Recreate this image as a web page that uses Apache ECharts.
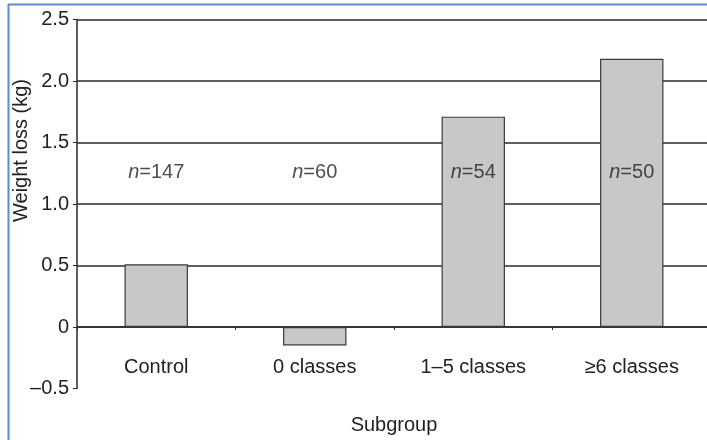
<!DOCTYPE html>
<html>
<head>
<meta charset="utf-8">
<script src="https://cdn.jsdelivr.net/npm/echarts@6/dist/echarts.min.js"></script>
<style>
html,body{margin:0;padding:0;background:#fff;}
#c{width:707px;height:440px;}
</style>
</head>
<body>
<div id="c"></div>
<script>
const categories = ['Control', '0 classes', '1\u20135 classes', '\u22656 classes'];
const weightLoss = [0.51, -0.15, 1.71, 2.18];
const sampleSizes = [147, 60, 54, 50];
const nLabelLevel = 1.26;
const yTicks = [-0.5, 0, 0.5, 1.0, 1.5, 2.0, 2.5];

const FONT = '"Liberation Sans", Arial, sans-serif';
const chart = echarts.init(document.getElementById('c'), null, {renderer: 'canvas'});
chart.setOption({
  backgroundColor: '#fff',
  animation: false,
  grid: {left: 77, right: -4, top: 19.5, bottom: 51.5, containLabel: false, outerBoundsMode: 'none'},
  xAxis: {
    type: 'category',
    data: categories,
    name: 'Subgroup',
    nameLocation: 'middle',
    nameGap: 27,
    nameTextStyle: {fontFamily: FONT, fontSize: 20, color: '#222'},
    axisLine: {onZero: true, lineStyle: {color: '#2a2a2a', width: 1.5}},
    axisTick: {show: true, inside: false, length: 3, lineStyle: {color: '#2a2a2a'}},
    axisLabel: {fontFamily: FONT, fontSize: 20, color: '#222', margin: -31},
    splitLine: {show: false}
  },
  yAxis: {
    type: 'value',
    min: yTicks[0],
    max: yTicks[yTicks.length - 1],
    interval: 0.5,
    axisLine: {show: true, lineStyle: {color: '#2a2a2a', width: 1.5}},
    axisTick: {show: true, length: 4, lineStyle: {color: '#2a2a2a'}},
    axisLabel: {
      fontFamily: FONT, fontSize: 20, color: '#222', margin: 8,
      formatter: function (v) {
        if (Math.abs(v) < 1e-9) return '0';
        const s = Math.abs(v).toFixed(1);
        return v < 0 ? '\u2013' + s : s;
      }
    },
    splitLine: {
      show: true,
      showMinLine: false,
      lineStyle: {color: '#2a2a2a', width: 1.5}
    }
  },
  series: [
    {
      type: 'bar',
      data: weightLoss,
      barWidth: '40%',
      itemStyle: {color: '#c8c8c8', borderColor: '#3a3a3a', borderWidth: 1.2},
      z: 3
    },
    {
      type: 'scatter',
      data: sampleSizes.map(function () { return nLabelLevel; }),
      symbolSize: 0,
      z: 5,
      label: {
        show: true,
        position: 'inside',
        formatter: function (p) { return '{i|n}=' + sampleSizes[p.dataIndex]; },
        fontFamily: FONT, fontSize: 20, color: '#222',
        rich: {
          i: {fontFamily: FONT, fontSize: 20, fontStyle: 'italic', color: '#222'}
        }
      }
    }
  ],
  graphic: [
    {
      type: 'text',
      left: 11,
      top: 79,
      rotation: Math.PI / 2,
      style: {text: 'Weight loss (kg)', fontFamily: FONT, fontSize: 20, fill: '#222'}
    },
    {type: 'line', shape: {x1: 8, y1: 4.5, x2: 707, y2: 4.5}, style: {stroke: '#5b8bd0', lineWidth: 2}},
    {type: 'line', shape: {x1: 8.5, y1: 4, x2: 8.5, y2: 440}, style: {stroke: '#5b8bd0', lineWidth: 2}}
  ]
});
</script>
</body>
</html>
